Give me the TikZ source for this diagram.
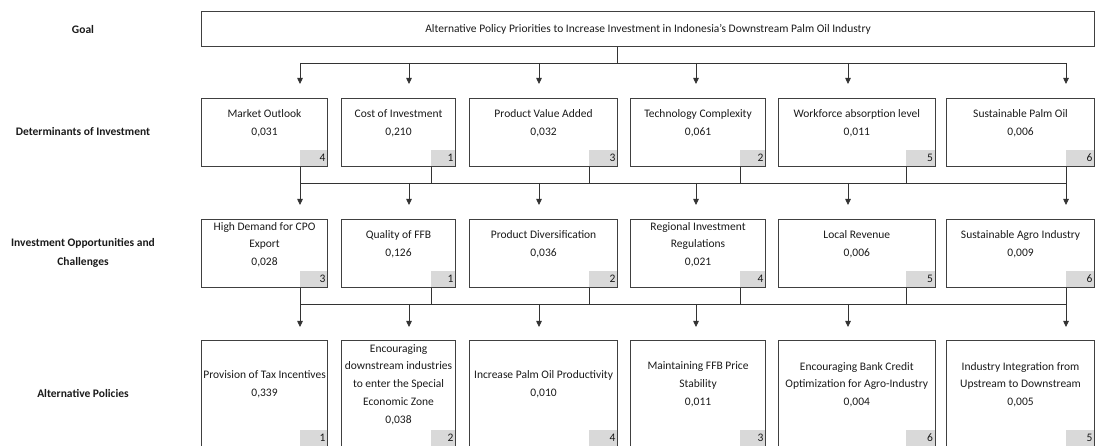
\documentclass[tikz,border=0pt]{standalone}
\usepackage{fontspec}
\setmainfont{Carlito}
\usetikzlibrary{arrows.meta}
\definecolor{edge}{HTML}{404040}
\definecolor{badge}{HTML}{D9D9D9}
\definecolor{ink}{HTML}{1A1A1A}
\newcommand\mkcell[7]{%
  \node[cell, minimum width=#4pt, minimum height=#5pt] (#1) at (#2,#3) {};
  \pgfmathsetmacro\tmpw{#6-4}%
  \node[rank, text width=\tmpw pt] (#1k) at ([xshift=-0.55pt,yshift=0.55pt]#1.south east) {#7};
}
\begin{document}
\begin{tikzpicture}[x=1pt,y=-1pt,
  cell/.style={draw=edge, line width=1.1pt, inner sep=0pt, anchor=north west},
  txt/.style={align=center, inner sep=0pt, text=ink, font=\fontsize{11.5}{17.8}\selectfont},
  lvl/.style={align=center, inner sep=0pt, text=ink, font=\bfseries\fontsize{11.5}{19}\selectfont},
  rank/.style={fill=badge, inner xsep=2pt, inner ysep=0pt, anchor=south east, minimum height=16.5pt, align=right, text=ink, font=\fontsize{11.5}{12}\selectfont},
  conn/.style={draw=black!80, line width=0.8pt},
  arr/.style={conn, -{Triangle[width=5.5pt,length=6pt]}}
]
\useasboundingbox (0,0) rectangle (1095,446);

% level labels
\node[lvl] (L0) at (83,30) {Goal};
\node[lvl] (L1) at (83,132) {Determinants of Investment};
\node[lvl] (L2) at (83,253) {Investment Opportunities and\\Challenges};
\node[lvl] (L3) at (83,393) {Alternative Policies};

% goal
\node[cell, minimum width=893pt, minimum height=35pt, text=ink, font=\fontsize{11.5}{14}\selectfont] (goal) at (201,11)
  {Alternative Policy Priorities to Increase Investment in Indonesia's Downstream Palm Oil Industry};

% row 1
\mkcell{a1}{201}{98}{126}{68}{27}{4}
\mkcell{a2}{341}{98}{114}{68}{24}{1}
\mkcell{a3}{469}{98}{148}{68}{28}{3}
\mkcell{a4}{630}{98}{135}{68}{25}{2}
\mkcell{a5}{778}{98}{156.5}{68}{28.5}{5}
\mkcell{a6}{946}{98}{148}{68}{28}{6}
\node[txt] (ta1) at ([yshift=9pt]a1.center) {Market Outlook\\0,031};
\node[txt] (ta2) at ([yshift=9pt]a2.center) {Cost of Investment\\0,210};
\node[txt] (ta3) at ([yshift=9pt]a3.center) {Product Value Added\\0,032};
\node[txt] (ta4) at ([yshift=9pt]a4.center) {Technology Complexity\\0,061};
\node[txt] (ta5) at ([yshift=9pt]a5.center) {Workforce absorption level\\0,011};
\node[txt] (ta6) at ([yshift=9pt]a6.center) {Sustainable Palm Oil\\0,006};

% row 2
\mkcell{b1}{201}{219}{126}{68}{27}{3}
\mkcell{b2}{341}{219}{114}{68}{24}{1}
\mkcell{b3}{469}{219}{148}{68}{28}{2}
\mkcell{b4}{630}{219}{135}{68}{25}{4}
\mkcell{b5}{778}{219}{156.5}{68}{28.5}{5}
\mkcell{b6}{946}{219}{148}{68}{28}{6}
\node[txt] (tb1) at ([yshift=9pt]b1.center) {High Demand for CPO\\Export\\0,028};
\node[txt] (tb2) at ([yshift=9pt]b2.center) {Quality of FFB\\0,126};
\node[txt] (tb3) at ([yshift=9pt]b3.center) {Product Diversification\\0,036};
\node[txt] (tb4) at ([yshift=9pt]b4.center) {Regional Investment\\Regulations\\0,021};
\node[txt] (tb5) at ([yshift=9pt]b5.center) {Local Revenue\\0,006};
\node[txt] (tb6) at ([yshift=9pt]b6.center) {Sustainable Agro Industry\\0,009};

% row 3
\mkcell{c1}{201}{340}{126}{106}{27}{1}
\mkcell{c2}{341}{340}{114}{106}{24}{2}
\mkcell{c3}{469}{340}{148}{106}{28}{4}
\mkcell{c4}{630}{340}{135}{106}{25}{3}
\mkcell{c5}{778}{340}{156.5}{106}{28.5}{6}
\mkcell{c6}{946}{340}{148}{106}{28}{5}
\node[txt] (tc1) at ([yshift=9pt]c1.center) {Provision of Tax Incentives\\0,339};
\node[txt] (tc2) at ([yshift=9pt]c2.center) {Encouraging\\downstream industries\\to enter the Special\\Economic Zone\\0,038};
\node[txt] (tc3) at ([yshift=9pt]c3.center) {Increase Palm Oil Productivity\\0,010};
\node[txt] (tc4) at ([yshift=9pt]c4.center) {Maintaining FFB Price\\Stability\\0,011};
\node[txt] (tc5) at ([yshift=9pt]c5.center) {Encouraging Bank Credit\\Optimization for Agro-Industry\\0,004};
\node[txt] (tc6) at ([yshift=9pt]c6.center) {Industry Integration from\\Upstream to Downstream\\0,005};

% connectors: goal -> row 1
\coordinate (g0) at (617,63);
\draw[conn] (goal.south -| g0) -- (g0);
\foreach \i/\x in {1/300,2/409,3/539,4/696,5/848,6/1066}{
  \coordinate (p\i) at (\x,63);
  \draw[arr, shorten >=14pt] (p\i) -- (p\i |- a\i.north);
}
\draw[conn] (p1) -- (p6);

% row 1 -> row 2
\foreach \i in {1,...,6}{
  \draw[conn] (a\i k.south west) -- (a\i k.south west |- 0,183);
}
\draw[conn] (a1k.south west |- 0,183) -- (a6k.south west |- 0,183);
\foreach \i/\x in {1/300,2/409,3/539,4/696,5/848,6/1066}{
  \coordinate (q\i) at (\x,183);
  \draw[arr, shorten >=14pt] (q\i) -- (q\i |- b\i.north);
}

% row 2 -> row 3
\foreach \i in {1,...,6}{
  \draw[conn] (b\i k.south west) -- (b\i k.south west |- 0,304);
}
\draw[conn] (b1k.south west |- 0,304) -- (b6k.south west |- 0,304);
\foreach \i/\x in {1/300,2/409,3/539,4/696,5/848,6/1066}{
  \coordinate (s\i) at (\x,304);
  \draw[arr, shorten >=13pt] (s\i) -- (s\i |- c\i.north);
}
\end{tikzpicture}
\end{document}
